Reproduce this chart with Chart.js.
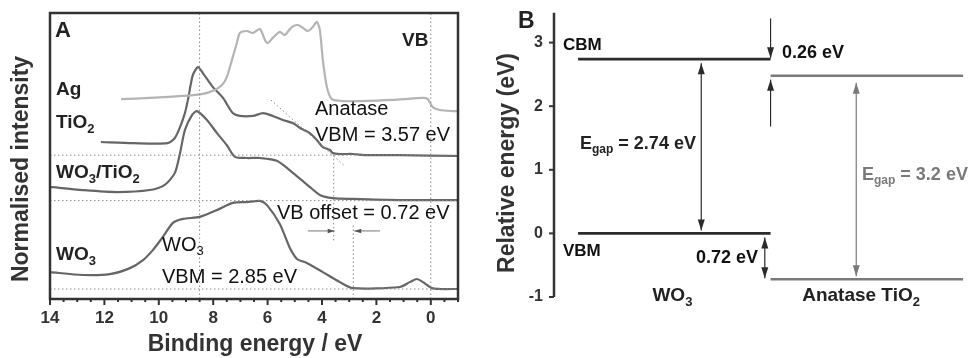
<!DOCTYPE html>
<html>
<head>
<meta charset="utf-8">
<script src="https://cdn.jsdelivr.net/npm/chart.js@4.4.1/dist/chart.umd.min.js"></script>
<style>
  html, body { margin: 0; padding: 0; background: #fff; }
  #wrap { position: relative; width: 970px; height: 358px; }
  #wrap canvas { position: absolute; top: 0; }
  #cA { left: 0; }
  #cB { left: 485px; }
</style>
</head>
<body>
<div id="wrap">
  <canvas id="cA" width="485" height="358"></canvas>
  <canvas id="cB" width="485" height="358"></canvas>
</div>
<script>
// ---- Panel A: valence band spectra (binding energy in eV, normalised intensity) ----
const agX   = [11.39, 10.33, 9.11, 8.38, 7.94, 7.68, 7.50, 7.31, 7.13, 7.02, 6.76, 6.54, 6.28, 6.10, 5.99, 5.81, 5.55, 5.37, 5.11, 4.89, 4.70, 4.52, 4.34, 4.19, 4.08, 3.97, 3.82, 3.64, 3.23, 2.61, 1.40, 0.29, 0.11, -0.07, -0.33, -0.81, -1.0];
const agY   = [69.9, 70.3, 71.0, 71.7, 73.1, 74.8, 77.6, 83.6, 89.5, 93.0, 93.7, 93.0, 94.4, 90.6, 89.5, 91.3, 93.4, 92.3, 95.1, 95.8, 94.8, 93.7, 95.1, 96.9, 94.1, 83.6, 74.1, 69.9, 69.2, 69.2, 69.6, 70.3, 69.9, 67.1, 66.1, 65.7, 65.7];

const tio2X = [12.13, 10.95, 9.67, 9.41, 9.22, 9.04, 8.93, 8.75, 8.56, 8.38, 8.01, 7.64, 7.28, 7.02, 6.54, 6.17, 5.81, 5.44, 5.07, 4.81, 4.45, 4.19, 3.97, 3.71, 3.60, 3.34, 2.87, 2.35, 1.14, -1.0];
const tio2Y = [54.9, 54.5, 54.5, 56.3, 60.1, 65.0, 69.6, 78.3, 81.1, 79.0, 74.1, 70.3, 65.0, 64.0, 64.0, 65.0, 64.0, 62.6, 61.5, 59.8, 58.0, 55.6, 53.1, 52.1, 51.0, 50.7, 50.7, 50.3, 50.3, 50.0];

const wtX   = [14.0, 12.79, 11.54, 10.33, 9.78, 9.41, 9.22, 9.04, 8.78, 8.60, 8.23, 7.86, 7.50, 7.20, 6.76, 6.28, 5.66, 5.07, 4.45, 4.08, 3.60, 2.87, 1.14, -1.0];
const wtY   = [39.2, 38.1, 37.4, 38.1, 39.9, 44.1, 51.0, 59.1, 64.3, 65.7, 62.6, 58.0, 53.8, 49.7, 49.3, 49.3, 48.3, 44.1, 39.2, 36.4, 35.3, 35.0, 34.6, 34.6];

const wo3X  = [14.0, 12.79, 11.80, 11.06, 10.58, 10.22, 9.85, 9.48, 9.11, 8.49, 7.86, 7.28, 6.76, 6.28, 6.03, 5.55, 5.18, 4.92, 4.56, 3.97, 3.34, 2.87, 1.14, 0.77, 0.51, 0.29, -0.04, -0.33, -1.0];
const wo3Y  = [9.4, 8.4, 8.7, 10.8, 13.6, 17.1, 21.7, 26.6, 28.0, 28.7, 31.1, 33.6, 33.9, 34.3, 32.9, 26.2, 17.8, 14.0, 12.6, 9.4, 5.9, 3.8, 4.2, 5.9, 7.0, 5.9, 3.8, 3.5, 3.5];

const xTicksA   = [14, 12, 10, 8, 6, 4, 2, 0];
const baselines = [50.3, 34.4, 3.5];          // flat background of each spectrum
const peakRef   = 8.5;
const vbmTiO2   = 3.57;
const vbmWO3    = 2.85;
const tangentX  = [5.88, 3.16];
const tangentY  = [69.6, 46.5];

// ---- Panel B: band alignment (eV relative to WO3 VBM) ----
const bands   = ['WO3', 'Anatase TiO2'];
const cbm     = [2.74, 2.48];
const vbm     = [0.00, -0.72];
const yTicksB = [-1, 0, 1, 2, 3];

const FONT = '"Liberation Sans", Arial, Helvetica, sans-serif';
const pts = (xs, ys) => xs.map((x, i) => ({ x, y: ys[i] }));

// text with optional subscript pieces: parts = [['WO', false], ['3', true]]
function richText(ctx, parts, x, y, { size = 18, bold = false, color = '#222', align = 'left' } = {}) {
  const w = bold ? 'bold ' : '';
  const main = `${w}${size}px ${FONT}`;
  const sub = `${w}${Math.round(size * 0.66)}px ${FONT}`;
  let total = 0;
  for (const [t, s] of parts) { ctx.font = s ? sub : main; total += ctx.measureText(t).width; }
  let cx = align === 'center' ? x - total / 2 : align === 'right' ? x - total : x;
  ctx.fillStyle = color;
  ctx.textAlign = 'left';
  ctx.textBaseline = 'middle';
  for (const [t, s] of parts) {
    ctx.font = s ? sub : main;
    ctx.fillText(t, cx, s ? y + size * 0.32 : y);
    cx += ctx.measureText(t).width;
  }
}

function head(ctx, x, y, dx, dy, color, len = 11, half = 3.5) {
  // tip at (x, y); (dx, dy) is the pointing direction
  ctx.fillStyle = color;
  ctx.beginPath();
  ctx.moveTo(x, y);
  ctx.lineTo(x - dx * len - dy * half, y - dy * len - dx * half);
  ctx.lineTo(x - dx * len + dy * half, y - dy * len + dx * half);
  ctx.closePath();
  ctx.fill();
}

const dotted = (data) => ({
  data, borderColor: '#8c8c8c', borderWidth: 1, borderDash: [1.5, 2.5], pointRadius: 0,
});

// ---------------- Panel A ----------------
const panelA = {
  id: 'panelA',
  afterDatasetsDraw(chart) {
    const { ctx, chartArea: a, scales: { x, y } } = chart;
    ctx.save();

    // VB offset arrows
    const ay = y.getPixelForValue(23.8);
    ctx.strokeStyle = '#777';
    ctx.lineWidth = 1;
    const l0 = x.getPixelForValue(4.52), l1 = x.getPixelForValue(vbmTiO2) + 1;
    const r0 = x.getPixelForValue(1.87), r1 = x.getPixelForValue(vbmWO3) + 1;
    ctx.beginPath(); ctx.moveTo(l0, ay); ctx.lineTo(l1, ay); ctx.moveTo(r0, ay); ctx.lineTo(r1, ay); ctx.stroke();
    head(ctx, l1, ay, 1, 0, '#555', 7, 2.2);
    head(ctx, r1, ay, -1, 0, '#555', 7, 2.2);

    // frame
    ctx.strokeStyle = '#333';
    ctx.lineWidth = 2.5;
    ctx.strokeRect(a.left, a.top, a.right - a.left, a.bottom - a.top);

    // bottom ticks (major every 2, minor every 0.5)
    ctx.lineWidth = 2;
    for (let v = 14; v >= -1; v -= 0.5) {
      const px = x.getPixelForValue(v);
      const len = v % 2 === 0 ? 6 : 3;
      ctx.beginPath(); ctx.moveTo(px, a.bottom); ctx.lineTo(px, a.bottom + len); ctx.stroke();
    }

    // labels
    richText(ctx, [['A', false]], 55, 31, { size: 22, bold: true, color: '#222' });
    richText(ctx, [['VB', false]], 402, 41, { size: 19, bold: true, color: '#222' });
    richText(ctx, [['Ag', false]], 56, 90, { size: 19, bold: true, color: '#222' });
    richText(ctx, [['TiO', false], ['2', true]], 56, 123, { size: 19, bold: true, color: '#222' });
    richText(ctx, [['WO', false], ['3', true], ['/TiO', false], ['2', true]], 56, 173, { size: 19, bold: true, color: '#222' });
    richText(ctx, [['WO', false], ['3', true]], 56, 255, { size: 19, bold: true, color: '#222' });

    richText(ctx, [['Anatase', false]], 315, 109, { size: 20, color: '#111' });
    richText(ctx, [['VBM = 3.57 eV', false]], 315, 135, { size: 20, color: '#111' });
    richText(ctx, [['VB offset = 0.72 eV', false]], 277, 213, { size: 20, color: '#111' });
    richText(ctx, [['WO', false], ['3', true]], 162, 245, { size: 20, color: '#111' });
    richText(ctx, [['VBM = 2.85 eV', false]], 162, 277, { size: 20, color: '#111' });

    // axis titles
    richText(ctx, [['Binding energy / eV', false]], 255, 345, { size: 23, bold: true, color: '#333', align: 'center' });
    ctx.save();
    ctx.translate(22, 169);
    ctx.rotate(-Math.PI / 2);
    richText(ctx, [['Normalised intensity', false]], 0, 0, { size: 23, bold: true, color: '#333', align: 'center' });
    ctx.restore();

    ctx.restore();
  },
};

const spectrum = (xs, ys, color) => ({
  data: pts(xs, ys), borderColor: color, borderWidth: 2.2, pointRadius: 0, tension: 0.25,
});

new Chart(document.getElementById('cA'), {
  type: 'line',
  data: {
    datasets: [
      dotted([{ x: peakRef, y: 0 }, { x: peakRef, y: 100 }]),
      dotted([{ x: 0, y: 0 }, { x: 0, y: 100 }]),
      dotted([{ x: vbmTiO2, y: 20.5 }, { x: vbmTiO2, y: baselines[0] }]),
      dotted([{ x: vbmWO3, y: 0 }, { x: vbmWO3, y: 26 }]),
      ...baselines.map(b => dotted([{ x: 14, y: b }, { x: -1, y: b }])),
      dotted(pts(tangentX, tangentY)),
      spectrum(agX, agY, '#b4b4b4'),
      spectrum(tio2X, tio2Y, '#666'),
      spectrum(wtX, wtY, '#666'),
      spectrum(wo3X, wo3Y, '#666'),
    ],
  },
  options: {
    responsive: false,
    animation: false,
    devicePixelRatio: 1,
    events: [],
    layout: { padding: { top: 13, right: 27, left: 50, bottom: 0 } },
    plugins: { legend: { display: false }, tooltip: { enabled: false } },
    scales: {
      x: {
        type: 'linear', reverse: true, min: -1, max: 14,
        afterBuildTicks: s => { s.ticks = xTicksA.map(v => ({ value: v })); },
        afterFit: s => { s.height = 59; },
        grid: { display: false, drawTicks: false },
        border: { display: false },
        ticks: { autoSkip: false, maxRotation: 0, padding: 9, color: '#333', font: { family: FONT, size: 17, weight: 'bold' } },
      },
      y: { display: false, min: 0, max: 100 },
    },
  },
  plugins: [panelA],
});

// ---------------- Panel B ----------------
const dark = '#2b2b2b', grey = '#7a7a7a';

const panelB = {
  id: 'panelB',
  afterDatasetsDraw(chart) {
    const { ctx, chartArea: a, scales: { x, y } } = chart;
    ctx.save();

    // y axis line + ticks (the axis line runs a little above the plot area)
    ctx.strokeStyle = '#333';
    ctx.lineWidth = 2.5;
    ctx.beginPath(); ctx.moveTo(a.left, y.getPixelForValue(3.47)); ctx.lineTo(a.left, y.getPixelForValue(-1)); ctx.stroke();
    ctx.lineWidth = 2;
    for (const v of yTicksB) {
      const py = y.getPixelForValue(v);
      ctx.beginPath(); ctx.moveTo(a.left, py); ctx.lineTo(a.left - 5, py); ctx.stroke();
    }

    const vArrow = (xv, yTop, yBot, color, headTop, headBot) => {
      const px = x.getPixelForValue(xv);
      ctx.strokeStyle = color;
      ctx.lineWidth = 1.2;
      ctx.beginPath(); ctx.moveTo(px, yTop); ctx.lineTo(px, yBot); ctx.stroke();
      if (headTop) head(ctx, px, yTop, 0, -1, color);
      if (headBot) head(ctx, px, yBot, 0, 1, color);
    };

    // band gaps
    vArrow(0.64, y.getPixelForValue(cbm[0]) + 4, y.getPixelForValue(vbm[0]) - 3, dark, true, true);
    vArrow(1.445, y.getPixelForValue(cbm[1]) + 7, y.getPixelForValue(vbm[1]) - 3, grey, true, true);
    // CB offset
    vArrow(1.0, y.getPixelForValue(3.38), y.getPixelForValue(cbm[0]) - 1, dark, false, true);
    vArrow(1.0, y.getPixelForValue(cbm[1]) + 4, y.getPixelForValue(1.68), dark, true, false);
    // VB offset
    vArrow(0.97, y.getPixelForValue(vbm[0]) + 4, y.getPixelForValue(vbm[1]) - 1, dark, true, true);

    const gapW = (cbm[0] - vbm[0]).toFixed(2);
    const gapT = (cbm[1] - vbm[1]).toFixed(1);
    const dCB = (cbm[0] - cbm[1]).toFixed(2);
    const dVB = (vbm[0] - vbm[1]).toFixed(2);

    richText(ctx, [['B', false]], 33, 22, { size: 23, bold: true, color: '#222' });
    richText(ctx, [['CBM', false]], 78, 45, { size: 17, bold: true, color: '#111' });
    richText(ctx, [['VBM', false]], 78, 251, { size: 17, bold: true, color: '#111' });
    richText(ctx, [[dCB + ' eV', false]], 297, 53, { size: 18, bold: true, color: '#111' });
    richText(ctx, [[dVB + ' eV', false]], 273, 258, { size: 18, bold: true, color: '#111', align: 'right' });
    richText(ctx, [['E', false], ['gap', true], [' = ' + gapW + ' eV', false]], 95, 144, { size: 18, bold: true, color: '#222' });
    richText(ctx, [['E', false], ['gap', true], [' = ' + gapT + ' eV', false]], 377, 175, { size: 18, bold: true, color: grey });

    richText(ctx, [['WO', false], ['3', true]], x.getPixelForValue(0.49), 296, { size: 19, bold: true, color: '#222', align: 'center' });
    richText(ctx, [['Anatase TiO', false], ['2', true]], x.getPixelForValue(1.47), 296, { size: 19, bold: true, color: '#222', align: 'center' });

    ctx.save();
    ctx.translate(23, 163);
    ctx.rotate(-Math.PI / 2);
    richText(ctx, [['Relative energy (eV)', false]], 0, 0, { size: 23, bold: true, color: '#333', align: 'center' });
    ctx.restore();

    ctx.restore();
  },
};

const level = (i, v, color) => ({
  data: [{ x: i, y: v }, { x: i + 1, y: v }], borderColor: color, borderWidth: 2.6, pointRadius: 0,
});

new Chart(document.getElementById('cB'), {
  type: 'line',
  data: {
    datasets: bands.flatMap((b, i) => {
      const c = i === 0 ? dark : grey;
      return [level(i, cbm[i], c), level(i, vbm[i], c)];
    }),
  },
  options: {
    responsive: false,
    animation: false,
    devicePixelRatio: 1,
    events: [],
    layout: { padding: { top: 13, right: 5, left: 0, bottom: 61 } },
    plugins: { legend: { display: false }, tooltip: { enabled: false } },
    scales: {
      x: { type: 'linear', display: false, min: -0.125, max: 2.01 },
      y: {
        min: -1, max: 3.346,
        afterBuildTicks: s => { s.ticks = yTicksB.map(v => ({ value: v })); },
        afterFit: s => { s.width = 69; },
        grid: { display: false, drawTicks: false },
        border: { display: false },
        ticks: { padding: 11, color: '#333', font: { family: FONT, size: 16, weight: 'bold' } },
      },
    },
  },
  plugins: [panelB],
});
</script>
</body>
</html>
